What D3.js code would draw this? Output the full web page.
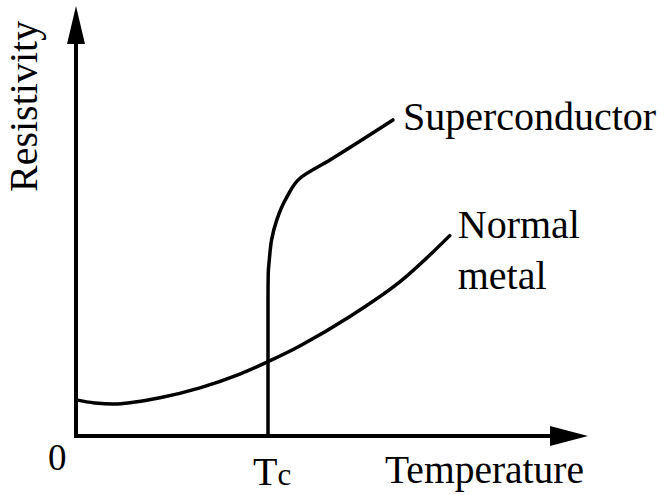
<!DOCTYPE html>
<html>
<head>
<meta charset="utf-8">
<script src="https://cdn.jsdelivr.net/npm/d3@7"></script>
<style>
  html, body { margin: 0; padding: 0; background: #fff; }
  svg text { font-family: "Liberation Serif", "Times New Roman", serif; fill: #000; }
</style>
</head>
<body>
<svg id="chart" width="666" height="495"></svg>
<script>
// values (arbitrary units)
const Tc = 3.75;

const normalT   = [0, 0.36, 0.8, 1.64, 2.42, 3.2, 3.75, 4.38, 5.35, 6.33, 7.3];
const normalRho = [0.84, 0.77, 0.745, 0.89, 1.12, 1.44, 1.73, 2.10, 2.78, 3.59, 4.66];

const superT   = [3.75, 3.75, 3.755, 3.775, 3.82, 3.92, 4.12, 4.38, 4.96, 6.19];
const superRho = [0, 3.16, 3.79, 4.09, 4.56, 5.02, 5.56, 6.0, 6.42, 7.35];

const xTickValues = [0, Tc];
const xTickLabels = ["0", "T"];

const svg = d3.select("#chart");

const x = d3.scaleLinear().domain([0, 10]).range([76, 588]);
const y = d3.scaleLinear().domain([0, 10]).range([436, 6]);

// axes with arrow heads
const arrowLen = 38, arrowHalf = 10;

svg.append("line")
  .attr("x1", x(0)).attr("y1", y(0))
  .attr("x2", x(10) - arrowLen + 2).attr("y2", y(0))
  .attr("stroke", "#000").attr("stroke-width", 4);
svg.append("path")
  .attr("d", `M${x(10)},${y(0)} L${x(10) - arrowLen},${y(0) - arrowHalf} L${x(10) - arrowLen},${y(0) + arrowHalf} Z`)
  .attr("fill", "#000");

svg.append("line")
  .attr("x1", x(0)).attr("y1", y(0) + 2)
  .attr("x2", x(0)).attr("y2", y(10) + arrowLen - 2)
  .attr("stroke", "#000").attr("stroke-width", 4);
svg.append("path")
  .attr("d", `M${x(0)},${y(10)} L${x(0) - arrowHalf + 1},${y(10) + arrowLen} L${x(0) + arrowHalf - 1},${y(10) + arrowLen} Z`)
  .attr("fill", "#000");

// curves
const normal = normalT.map((t, i) => [t, normalRho[i]]);
const sc = superT.map((t, i) => [t, superRho[i]]);

svg.append("path")
  .datum(normal)
  .attr("d", d3.line().x(d => x(d[0])).y(d => y(d[1])).curve(d3.curveCatmullRom.alpha(0.5)))
  .attr("fill", "none").attr("stroke", "#000").attr("stroke-width", 3.5)
  .attr("stroke-linecap", "round");

svg.append("path")
  .datum(sc)
  .attr("d", d3.line().x(d => x(d[0])).y(d => y(d[1])).curve(d3.curveMonotoneY))
  .attr("fill", "none").attr("stroke", "#000").attr("stroke-width", 3.5)
  .attr("stroke-linecap", "round");

// tick labels
svg.append("text")
  .attr("x", x(xTickValues[0]) - 28).attr("y", 470)
  .attr("font-size", 37)
  .text(xTickLabels[0]);

const tcLabel = svg.append("text")
  .attr("x", x(xTickValues[1]) - 15).attr("y", 485)
  .attr("font-size", 40);
tcLabel.append("tspan").text(xTickLabels[1]);
tcLabel.append("tspan").attr("font-size", 31).text("c");

// axis titles
svg.append("text")
  .attr("x", 385).attr("y", 483)
  .attr("font-size", 39.5)
  .text("Temperature");

svg.append("text")
  .attr("transform", "translate(37,192) rotate(-90)")
  .attr("font-size", 40)
  .text("Resistivity");

// curve labels
const scEnd = sc[sc.length - 1];
svg.append("text")
  .attr("x", x(scEnd[0]) + 10).attr("y", y(scEnd[1]) + 10)
  .attr("font-size", 40)
  .text("Superconductor");

const nEnd = normal[normal.length - 1];
const nLabel = svg.append("text")
  .attr("x", x(nEnd[0]) + 8).attr("y", y(nEnd[1]) + 2)
  .attr("font-size", 40);
nLabel.append("tspan").text("Normal");
nLabel.append("tspan").attr("x", x(nEnd[0]) + 8).attr("dy", 51).text("metal");
</script>
</body>
</html>
